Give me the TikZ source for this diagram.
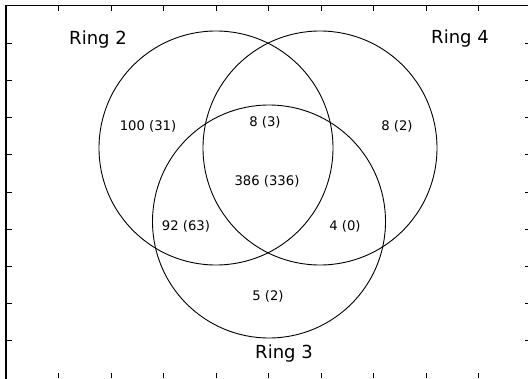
\documentclass[tikz,border=0pt]{standalone}
\usepackage{fontspec}
\setmainfont{DejaVu Sans}
\usepackage{tikz}

\begin{document}
\begin{tikzpicture}[
    x=1pt, y=-1pt,
    ring/.style={draw, circle, line width=0.9pt, minimum size=234pt, inner sep=0pt},
    ringlabel/.style={font=\fontsize{18}{21}\selectfont},
    count/.style={font=\fontsize{13.2}{16}\selectfont},
    tick/.style={line width=1pt}
  ]
    \useasboundingbox (0,0) rectangle (528,378);
    \clip (0,0) rectangle (528,378);
    % frame and ticks
    \draw[line width=1.4pt] (6,384) -- (6,5.5) -- (531,5.5) -- (531,384);
    \foreach \k in {1,...,9} {
      \draw[tick] (6,6+37.2*\k) -- ++(6,0);
      \draw[tick] (531,6+37.2*\k) -- ++(-6,0);
      \draw[tick] (6+52.5*\k,6) -- ++(0,5);
      \draw[tick] (6+52.5*\k,378) -- ++(0,-5);
    }
    % the three rings
    \node[ring] (ring2) at (216,148) {};
    \node[ring] (ring4) at (320,148) {};
    \node[ring, minimum size=233pt] (ring3) at (269,221.5) {};
    \node[ringlabel] (lab2) at (98,40) {Ring 2};
    \node[ringlabel] (lab4) at (460,39) {Ring 4};
    \node[ringlabel] (lab3) at (284,354) {Ring 3};
    % counts
    \node[count] (only2) at (148,126) {100 (31)};
    \node[count] (both24) at (265,122) {8 (3)};
    \node[count] (only4) at (397,126) {8 (2)};
    \node[count] (all) at (267,181) {386 (336)};
    \node[count] (both23) at (186,226) {92 (63)};
    \node[count] (both34) at (345,226) {4 (0)};
    \node[count] (only3) at (268,296) {5 (2)};
  \end{tikzpicture}
\end{document}
